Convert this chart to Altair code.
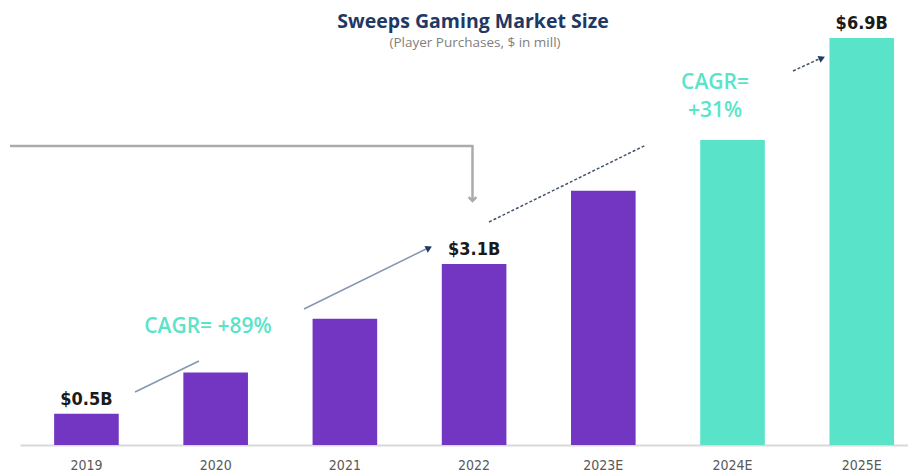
import altair as alt
import pandas as pd

# ---- data ----
years = ["2019", "2020", "2021", "2022", "2023E", "2024E", "2025E"]
values_b = [0.53, 1.23, 2.14, 3.07, 4.31, 5.17, 6.9]
phase = ["Actual", "Actual", "Actual", "Actual", "Actual", "Forecast", "Forecast"]
value_labels = ["$0.5B", "", "", "$3.1B", "", "", "$6.9B"]

title_text = "Sweeps Gaming Market Size"
subtitle_text = "(Player Purchases, $ in mill)"
cagr_hist = "CAGR= +89%"
cagr_fc_lines = ["CAGR=", "+31%"]

# ---- annotation geometry (pixels, relative to the plot origin) ----
grey_segs = pd.DataFrame({"x": [-10, 452.5], "y": [108, 108], "x2": [453.5, 452.5], "y2": [108, 161]})
solid_segs = pd.DataFrame({"x": [115, 284], "y": [354, 271], "x2": [179, 406], "y2": [323, 211]})
dotted_segs = pd.DataFrame({"x": [469, 773], "y": [184, 33], "x2": [626, 799], "y2": [107, 21]})
heads = pd.DataFrame({"x": [409, 802], "y": [210, 20], "a": [334, 336]})

W, H = 888, 407
PURPLE = "#7236C3"
TEAL = "#59E4CA"
NAVY = "#1F3864"
COND = "DejaVu Sans Condensed, Liberation Sans Narrow, Liberation Sans, sans-serif"

df = pd.DataFrame({"year": years, "value": values_b, "phase": phase, "label": value_labels})

xenc = alt.X("year:N", sort=years, title=None,
             scale=alt.Scale(paddingInner=0.5, paddingOuter=0.186, align=0.71),
             axis=alt.Axis(labelAngle=0, labelColor="#595959", labelFont=COND,
                           labelFontSize=14, labelPadding=13, ticks=False, domainColor="#D9D9D9",
                           domainWidth=2, grid=False))
yenc = alt.Y("value:Q", scale=alt.Scale(domain=[0, 6.9], nice=False, zero=True), axis=None)

bars = alt.Chart(df).mark_bar().encode(
    x=xenc, y=yenc,
    color=alt.Color("phase:N", scale=alt.Scale(domain=["Actual", "Forecast"], range=[PURPLE, TEAL]), legend=None),
)
labels = alt.Chart(df).mark_text(fontWeight="bold", fontSize=18, font=COND,
                                 color="#1A1A1A", baseline="alphabetic", dy=-9).encode(
    x=alt.X("year:N", sort=years), y="value:Q", text="label:N")

base = alt.layer(bars, labels)

def segs(d, color, width, dash=None):
    kw = dict(color=color, strokeWidth=width)
    if dash:
        kw["strokeDash"] = dash
    return alt.Chart(d).mark_rule(**kw).encode(
        x=alt.X("x:Q", scale=None, axis=None), y=alt.Y("y:Q", scale=None, axis=None),
        x2="x2:Q", y2="y2:Q")

grey = segs(grey_segs, "#ABABAB", 2.5)
solid = segs(solid_segs, "#8496B0", 1.5)
dotted = segs(dotted_segs, "#44546A", 1.5, [3, 2])

chev = alt.Chart(pd.DataFrame({"x": [452.5], "y": [163]})).mark_point(
    shape="M -1 -1 L 0 0 L 1 -1", filled=False, color="#ABABAB", strokeWidth=2.5, size=60, opacity=1
).encode(x=alt.X("x:Q", scale=None, axis=None), y=alt.Y("y:Q", scale=None, axis=None))

arrows = alt.Chart(heads).mark_point(shape="triangle-right", filled=True, color=NAVY, size=55, opacity=1).encode(
    x=alt.X("x:Q", scale=None, axis=None), y=alt.Y("y:Q", scale=None, axis=None), angle=alt.Angle("a:Q", scale=None))

def txt(t, x, y, size, color, weight="normal", font="Liberation Sans", baseline="middle"):
    return alt.Chart(pd.DataFrame({"t": [t]})).mark_text(
        fontSize=size, color=color, fontWeight=weight, font=font, baseline=baseline, align="center"
    ).encode(x=alt.value(x), y=alt.value(y), text="t:N")

title = txt(title_text, 453, -10, 19.5, NAVY, "bold", "Open Sans", "alphabetic")
subtitle = txt(subtitle_text, 455, 9, 13.5, "#7F7F7F", "normal", "Open Sans", "alphabetic")
c1 = txt(cagr_hist, 188, 289, 21, TEAL, 600, "Open Sans")
c2 = txt(cagr_fc_lines[0], 695, 45, 21, TEAL, 600, "Open Sans")
c3 = txt(cagr_fc_lines[1], 695, 73, 21, TEAL, 600, "Open Sans")

chart = alt.layer(base, grey, solid, dotted, chev, arrows, title, subtitle, c1, c2, c3).resolve_scale(
    x="independent", y="independent"
).properties(
    width=W, height=H,
    background="white",
    autosize=alt.AutoSizeParams(type="none"),
    padding={"left": 12, "top": 30, "right": 0, "bottom": 30},
).configure_view(stroke=None, strokeWidth=0)

chart.save("out.html", embed_options={"renderer": "svg", "actions": False})
